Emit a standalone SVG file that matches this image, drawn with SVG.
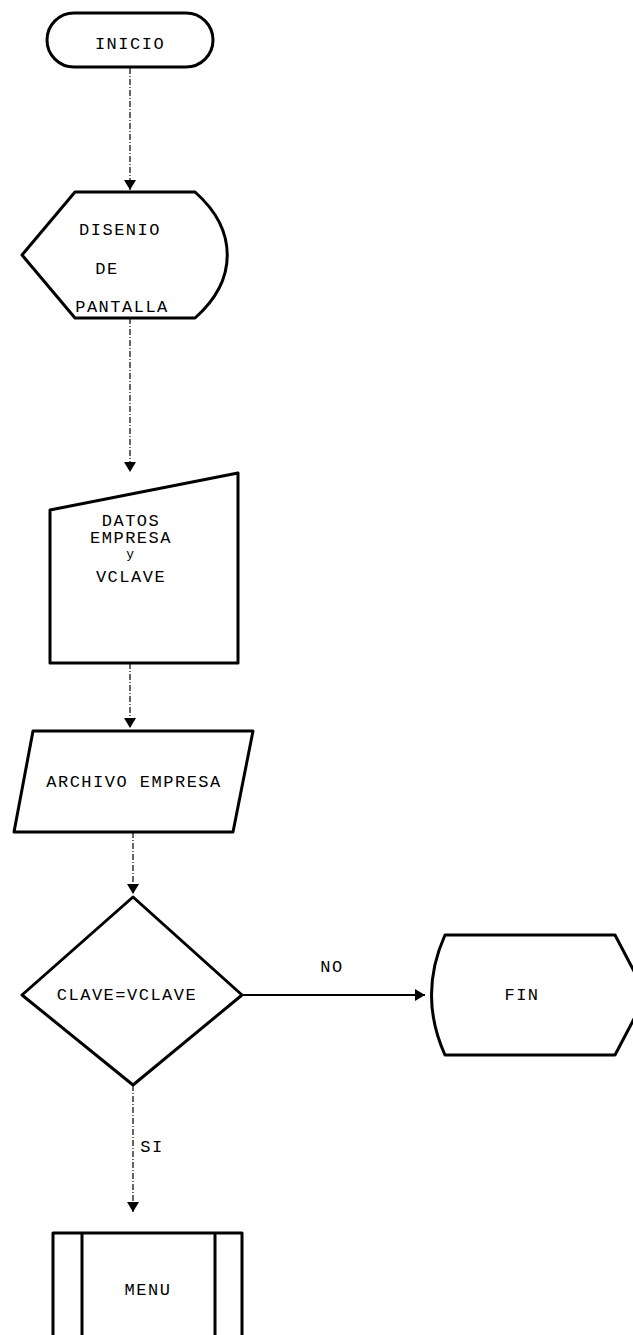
<svg xmlns="http://www.w3.org/2000/svg" width="633" height="1335" viewBox="0 0 633 1335">
<defs>
<style>
.shape{fill:#fff;stroke:#000;stroke-width:3;stroke-linejoin:round}
.conn{stroke:#000;stroke-width:1.2;fill:none;stroke-dasharray:6 2 1 2}
.solid{stroke:#000;stroke-width:2;fill:none}
text{font-family:"Liberation Mono","DejaVu Sans Mono",monospace;font-size:17px;fill:#000;text-anchor:middle;dominant-baseline:central;letter-spacing:1.5px}
</style>
<marker id="arr" viewBox="0 0 10 12" refX="10" refY="6" markerWidth="10" markerHeight="12" markerUnits="userSpaceOnUse" orient="auto">
<path d="M0,0 L10,6 L0,12 Z" fill="#000"/>
</marker>
</defs>
<rect width="633" height="1335" fill="#fff"/>
<g id="connectors">
<line class="conn" x1="130" y1="68" x2="130" y2="190" marker-end="url(#arr)"/>
<line class="conn" x1="130" y1="318" x2="130" y2="472" marker-end="url(#arr)"/>
<line class="conn" x1="130" y1="663" x2="130" y2="728" marker-end="url(#arr)"/>
<line class="conn" x1="133" y1="832" x2="133" y2="894" marker-end="url(#arr)"/>
<line class="solid" x1="242" y1="995" x2="425" y2="995" marker-end="url(#arr)"/>
<text x="332" y="967">NO</text>
<line class="conn" x1="133" y1="1085" x2="133" y2="1212" marker-end="url(#arr)"/>
<text x="152" y="1147">SI</text>
</g>
<g id="inicio">
<rect class="shape" x="47" y="13" width="166" height="54" rx="27" ry="27"/>
<text x="130" y="44">INICIO</text>
</g>
<g id="disenio">
<path class="shape" d="M75,192 L195,192 C238,230 238,280 195,318 L75,318 L22,255 Z"/>
<text x="120" y="230">DISENIO</text>
<text x="107" y="269">DE</text>
<text x="122" y="307">PANTALLA</text>
</g>
<g id="datos">
<path class="shape" d="M50,510 L238,473 L238,663 L50,663 Z"/>
<text x="131" y="521">DATOS</text>
<text x="131" y="538">EMPRESA</text>
<text x="131" y="554" style="font-size:13px">y</text>
<text x="131" y="577">VCLAVE</text>
</g>
<g id="archivo">
<path class="shape" d="M33,731 L253,731 L233,832 L14,832 Z"/>
<text x="134" y="782">ARCHIVO EMPRESA</text>
</g>
<g id="decision">
<path class="shape" d="M133,897 L242,995 L133,1085 L22,995 Z"/>
<text x="127" y="995">CLAVE=VCLAVE</text>
</g>
<g id="fin">
<path class="shape" d="M445,935 L615,935 L636,975 L636,1015 L615,1055 L445,1055 Q418,995 445,935 Z"/>
<text x="522" y="995">FIN</text>
</g>
<g id="menu">
<rect class="shape" x="53" y="1233" width="189" height="110"/>
<line class="shape" x1="82" y1="1233" x2="82" y2="1335"/>
<line class="shape" x1="215" y1="1233" x2="215" y2="1335"/>
<text x="148" y="1290">MENU</text>
</g>
</svg>
